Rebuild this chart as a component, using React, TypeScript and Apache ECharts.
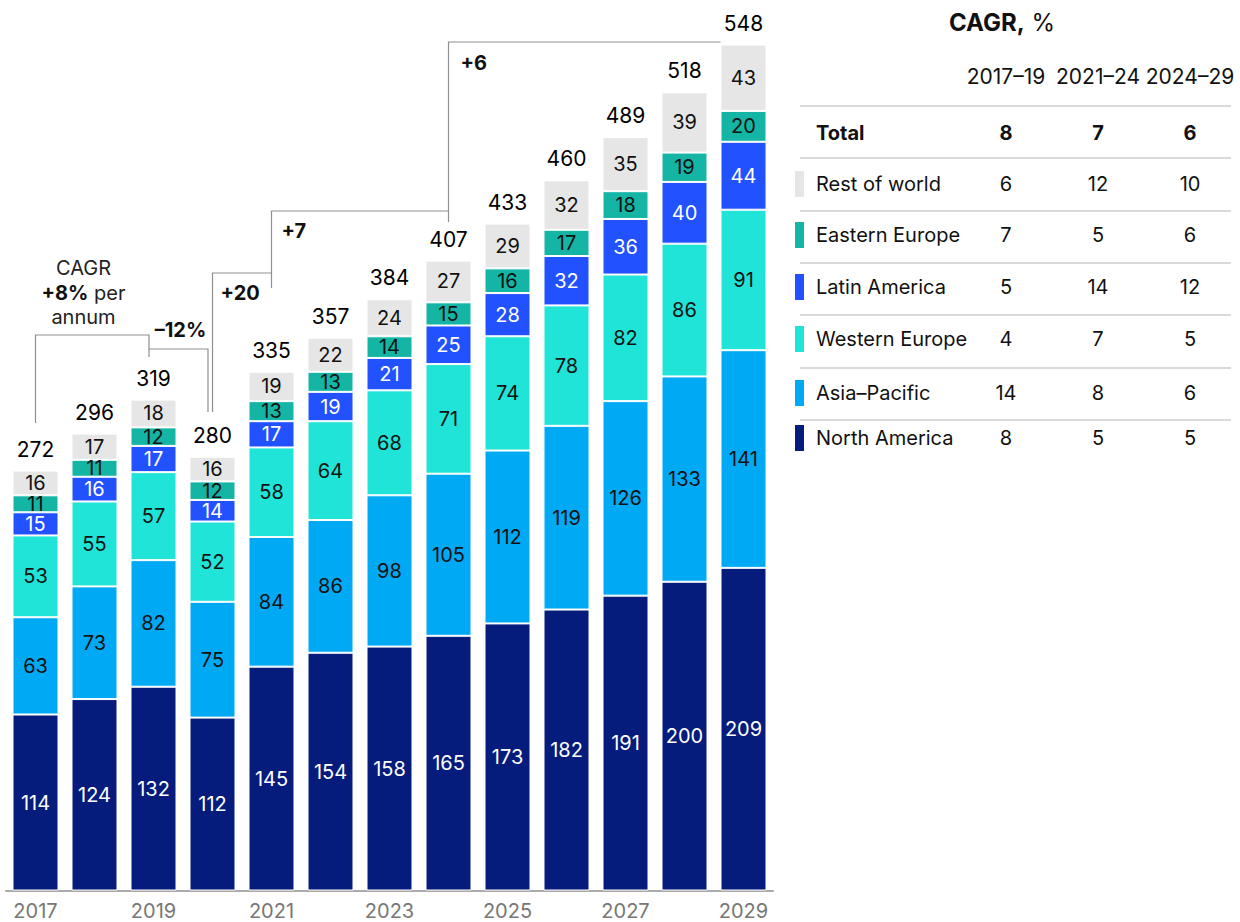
import React, { useEffect, useRef } from "react";
import * as echarts from "echarts";

const years = ["2017", "2018", "2019", "2020", "2021", "2022", "2023", "2024", "2025", "2026", "2027", "2028", "2029"];
const northAmerica = [114, 124, 132, 112, 145, 154, 158, 165, 173, 182, 191, 200, 209];
const asiaPacific = [63, 73, 82, 75, 84, 86, 98, 105, 112, 119, 126, 133, 141];
const westernEurope = [53, 55, 57, 52, 58, 64, 68, 71, 74, 78, 82, 86, 91];
const latinAmerica = [15, 16, 17, 14, 17, 19, 21, 25, 28, 32, 36, 40, 44];
const easternEurope = [11, 11, 12, 12, 13, 13, 14, 15, 16, 17, 18, 19, 20];
const restOfWorld = [16, 17, 18, 16, 19, 22, 24, 27, 29, 32, 35, 39, 43];
const totals = [272, 296, 319, 280, 335, 357, 384, 407, 433, 460, 489, 518, 548];

const tableHeaders = ["2017–19", "2021–24", "2024–29"];
const tableRegions = ["Rest of world", "Eastern Europe", "Latin America", "Western Europe", "Asia–Pacific", "North America"];
const cagr1719 = [6, 7, 5, 4, 14, 8];
const cagr2124 = [12, 5, 14, 7, 8, 5];
const cagr2429 = [10, 6, 12, 5, 6, 5];
const totalCagr = [8, 7, 6];

const FONT = "Inter, 'Liberation Sans', Arial, sans-serif";
const DARK = "#111";

const COLORS = {
  na: "#051C7C",
  ap: "#00A9F4",
  we: "#1FE4D7",
  la: "#2251FF",
  ee: "#14B5A4",
  rw: "#E6E6E6",
};

export default function App() {
  const ref = useRef<HTMLDivElement>(null);

  useEffect(() => {
    const el = ref.current!;
    const chart = echarts.init(el, null, { renderer: "svg" });

    const mk = (name: string, data: number[], color: string, labelColor: string) => ({
      name,
      type: "bar",
      stack: "total",
      data,
      barWidth: 46,
      itemStyle: { color, borderColor: "#fff", borderWidth: 1 },
      label: {
        show: true,
        position: "inside",
        color: labelColor,
        fontSize: 20,
        fontFamily: FONT,
      },
      emphasis: { disabled: true },
      silent: true,
    });

    chart.setOption({
      animation: false,
      grid: { left: 6, right: 467, top: 26, bottom: 31.5, containLabel: false },
      xAxis: {
        type: "category",
        data: years,
        axisLine: { lineStyle: { color: "#aaa", width: 2 } },
        axisTick: { show: false },
        axisLabel: { interval: 1, color: "#777", fontSize: 20, fontFamily: FONT, margin: 10 },
      },
      yAxis: { type: "value", min: 0, max: 560, show: false, splitLine: { show: false } },
      series: [
        mk("North America", northAmerica, COLORS.na, "#fff"),
        mk("Asia–Pacific", asiaPacific, COLORS.ap, DARK),
        mk("Western Europe", westernEurope, COLORS.we, DARK),
        mk("Latin America", latinAmerica, COLORS.la, "#fff"),
        mk("Eastern Europe", easternEurope, COLORS.ee, DARK),
        mk("Rest of world", restOfWorld, COLORS.rw, DARK),
        {
          name: "Total",
          type: "bar",
          stack: "total",
          data: totals.map(() => 0),
          barWidth: 46,
          itemStyle: { color: "rgba(0,0,0,0)" },
          label: {
            show: true,
            position: "top",
            distance: 11,
            color: "#000",
            fontSize: 21,
            fontFamily: FONT,
            formatter: (p: any) => String(totals[p.dataIndex]),
          },
          emphasis: { disabled: true },
          silent: true,
        },
      ],
    });

    const cx = (i: number) => chart.convertToPixel({ xAxisIndex: 0 }, years[i]) as number;
    const LINE = { stroke: "#8f8f8f", lineWidth: 1.2, fill: null };
    const poly = (pts: number[][]) => ({ type: "polyline", silent: true, shape: { points: pts }, style: LINE });
    const txt = (x: number, y: number, text: string, opts: any = {}) => ({
      type: "text",
      x,
      y,
      silent: true,
      style: {
        text,
        fill: opts.fill || DARK,
        fontSize: opts.fontSize || 20,
        fontFamily: FONT,
        fontWeight: opts.fontWeight || "normal",
        align: opts.align || "left",
        verticalAlign: "middle",
        rich: opts.rich,
      },
    });

    const graphics: any[] = [];
    // Brackets
    graphics.push(poly([[cx(0), 423], [cx(0), 335], [cx(2) - 4.5, 335], [cx(2) - 4.5, 357]]));
    graphics.push(poly([[cx(2) - 4.5, 349], [cx(3) - 4.5, 349], [cx(3) - 4.5, 412]]));
    graphics.push(poly([[cx(3), 412], [cx(3), 273], [cx(4), 273]]));
    graphics.push(poly([[cx(4), 288], [cx(4), 211], [cx(7), 211]]));
    graphics.push(poly([[cx(7), 222], [cx(7), 42], [cx(12) - 23, 42]]));

    // Bracket labels
    const midA = (cx(0) + cx(2)) / 2 - 11;
    graphics.push(txt(midA, 268, "CAGR", { align: "center", fill: "#222" }));
    graphics.push(
      txt(midA, 293, "{b|+8%} per", {
        align: "center",
        fill: "#222",
        rich: { b: { fontWeight: "bold", fontSize: 20, fontFamily: FONT, fill: DARK } },
      })
    );
    graphics.push(txt(midA, 317, "annum", { align: "center", fill: "#222" }));
    graphics.push(txt((cx(2) + cx(3)) / 2 - 2.5, 330, "–12%", { align: "center", fontWeight: "bold" }));
    graphics.push(txt(cx(3) + 8, 293, "+20", { fontWeight: "bold" }));
    graphics.push(txt(cx(4) + 10, 231, "+7", { fontWeight: "bold" }));
    graphics.push(txt(cx(7) + 12, 63, "+6", { fontWeight: "bold" }));

    // Table
    const colX = [1006, 1098, 1190];
    graphics.push(
      txt(1002, 22, "{b|CAGR,} %", {
        align: "center",
        fontSize: 24,
        rich: { b: { fontWeight: "bold", fontSize: 24, fontFamily: FONT, fill: DARK } },
      })
    );
    tableHeaders.forEach((h, i) => graphics.push(txt(colX[i], 76, h, { align: "center", fontSize: 21 })));
    const lineYs = [106, 158, 211, 263, 315, 368, 420];
    lineYs.forEach((y) =>
      graphics.push({
        type: "line",
        silent: true,
        shape: { x1: 800, y1: y, x2: 1231, y2: y },
        style: { stroke: "#ccc", lineWidth: 1.5 },
      })
    );
    graphics.push(txt(816, 133, "Total", { fontWeight: "bold" }));
    totalCagr.forEach((v, i) => graphics.push(txt(colX[i], 133, String(v), { align: "center", fontWeight: "bold" })));
    const rowYs = [184, 235, 287, 339, 393, 438];
    const swatch = [COLORS.rw, COLORS.ee, COLORS.la, COLORS.we, COLORS.ap, COLORS.na];
    tableRegions.forEach((r, i) => {
      const y = rowYs[i];
      graphics.push({
        type: "rect",
        silent: true,
        shape: { x: 795, y: y - 13, width: 9, height: 26 },
        style: { fill: swatch[i] },
      });
      graphics.push(txt(816, y, r));
      [cagr1719[i], cagr2124[i], cagr2429[i]].forEach((v, j) =>
        graphics.push(txt(colX[j], y, String(v), { align: "center" }))
      );
    });

    chart.setOption({ graphic: graphics });

    return () => chart.dispose();
  }, []);

  return (
    <div
      ref={ref}
      style={{ position: "absolute", left: 0, top: 0, width: 1240, height: 922, background: "#fff" }}
    />
  );
}
